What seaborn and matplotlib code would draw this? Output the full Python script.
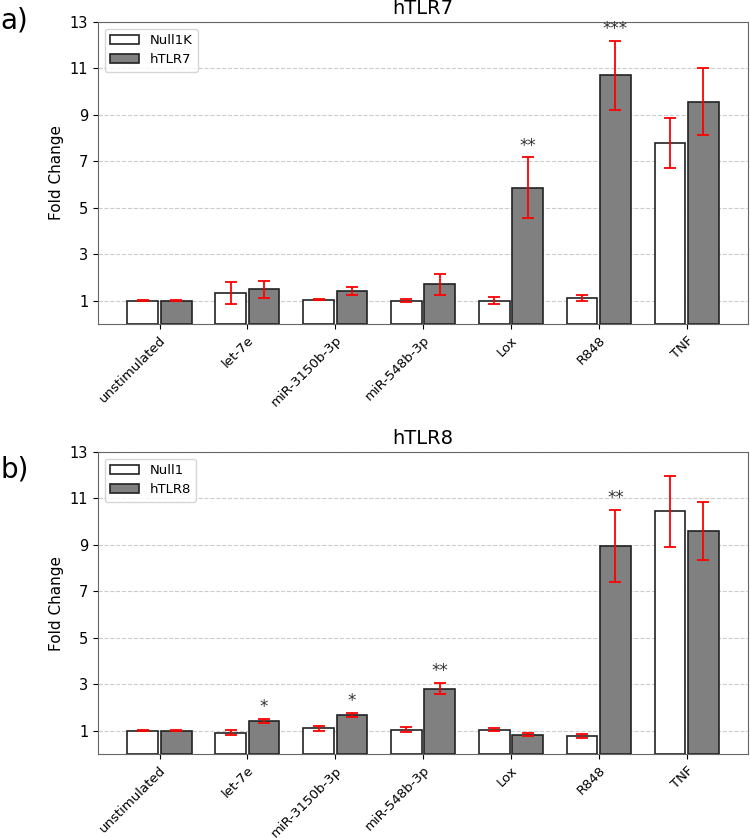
import numpy as np
import pandas as pd
import matplotlib
matplotlib.use('Agg')
import matplotlib.pyplot as plt
import seaborn as sns

# categories
stimuli = ['unstimulated', 'let-7e', 'miR-3150b-3p', 'miR-548b-3p', 'Lox', 'R848', 'TNF']

# panel a) hTLR7
null1k_mean = [1.0, 1.35, 1.05, 1.0, 1.0, 1.13, 7.8]
null1k_err = [0.02, 0.47, 0.03, 0.06, 0.15, 0.12, 1.07]
htlr7_mean = [1.0, 1.5, 1.4, 1.7, 5.87, 10.7, 9.57]
htlr7_err = [0.02, 0.37, 0.17, 0.47, 1.3, 1.5, 1.45]
sig_a = ['', '', '', '', '**', '***', '']

# panel b) hTLR8
null1_mean = [1.0, 0.92, 1.1, 1.05, 1.05, 0.78, 10.45]
null1_err = [0.02, 0.1, 0.1, 0.1, 0.08, 0.1, 1.53]
htlr8_mean = [1.0, 1.42, 1.68, 2.82, 0.83, 8.95, 9.6]
htlr8_err = [0.02, 0.08, 0.08, 0.23, 0.07, 1.55, 1.25]
sig_b = ['', '*', '*', '**', '', '**', '']

yticks = [1, 3, 5, 7, 9, 11, 13]

fig = plt.figure(figsize=(7.5, 8.38), dpi=100)
ax_a = fig.add_axes([0.1307, 0.6134, 0.8667, 0.3604])
ax_b = fig.add_axes([0.1307, 0.1002, 0.8667, 0.3604])


def panel(ax, ctrl_name, ctrl_mean, ctrl_err, tlr_name, tlr_mean, tlr_err, sig, title):
    df = pd.DataFrame({
        'stimulus': stimuli * 2,
        'group': [ctrl_name] * len(stimuli) + [tlr_name] * len(stimuli),
        'fold': ctrl_mean + tlr_mean,
    })
    sns.barplot(data=df, x='stimulus', y='fold', hue='group', ax=ax,
                palette=['white', 'grey'], edgecolor='#222222', linewidth=1.2,
                width=0.76, gap=0.08, errorbar=None, zorder=2)
    # error bars on bar centres
    for cont, err in zip(ax.containers, [ctrl_err, tlr_err]):
        xs = [b.get_x() + b.get_width() / 2 for b in cont]
        hs = [b.get_height() for b in cont]
        ax.errorbar(xs, hs, yerr=err, fmt='none', ecolor='red', elinewidth=1.3,
                    capsize=4, capthick=1.3, zorder=3)
    # significance stars above hTLR bars
    tcont = ax.containers[1]
    for b, s, e in zip(tcont, sig, tlr_err):
        if s:
            ax.text(b.get_x() + b.get_width() / 2, b.get_height() + e + 0.12, s,
                    ha='center', va='bottom', fontsize=12, color='#333333')
    ax.set_xlim(-0.7, 6.7)
    ax.set_ylim(0, 13)
    ax.set_yticks(yticks)
    ax.yaxis.grid(True, linestyle='--', color='#cccccc', linewidth=0.8, zorder=0)
    ax.set_axisbelow(True)
    ax.set_xlabel('')
    ax.set_ylabel('Fold Change', fontsize=11)
    ax.set_title(title, fontsize=14)
    ax.tick_params(axis='x', labelrotation=45, labelsize=9.5)
    ax.tick_params(axis='y', labelsize=10.5)
    for lab in ax.get_xticklabels():
        lab.set_ha('right')
        lab.set_rotation_mode('anchor')
    for sp in ax.spines.values():
        sp.set_color('#666666')
    ax.legend(loc='upper left', fontsize=9.5, frameon=True, handlelength=2.2)


panel(ax_a, 'Null1K', null1k_mean, null1k_err, 'hTLR7', htlr7_mean, htlr7_err, sig_a, 'hTLR7')
panel(ax_b, 'Null1', null1_mean, null1_err, 'hTLR8', htlr8_mean, htlr8_err, sig_b, 'hTLR8')

fig.text(0.001, 0.975, 'a)', fontsize=20, ha='left', va='center')
fig.text(0.001, 0.44, 'b)', fontsize=20, ha='left', va='center')

fig.savefig('out.png', dpi=100)
